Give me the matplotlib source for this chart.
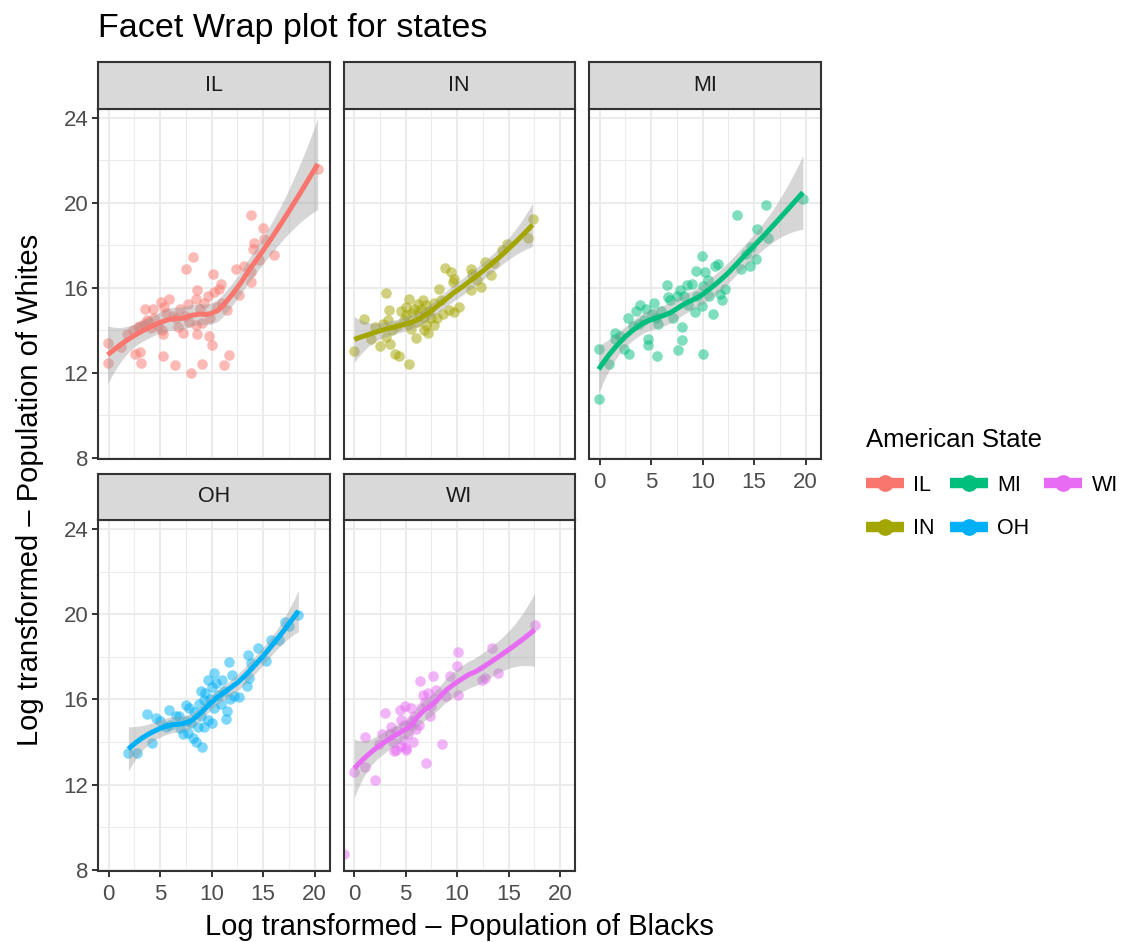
import numpy as np
import matplotlib
matplotlib.use("Agg")
import matplotlib.pyplot as plt
from matplotlib.lines import Line2D

plt.rcParams['font.family'] = ['Liberation Sans', 'DejaVu Sans']

# ---- data ---------------------------------------------------------------
states = ["IL", "IN", "MI", "OH", "WI"]
state_colors = ["#F8766D", "#A3A500", "#00BF7D", "#00B0F6", "#E76BF3"]

# (log black population, log white population) per county
il_points = [
    (-0.1, 13.4), (-0.1, 12.45), (1.2, 13.2), (1.8, 13.85), (2.4, 14.0), (2.6, 12.9),
    (2.8, 14.15), (3.0, 13.0), (3.0, 14.2), (3.1, 12.45), (3.4, 14.3), (3.5, 15.0),
    (3.7, 14.5), (3.8, 14.4), (4.1, 14.1), (4.3, 15.0), (4.4, 14.6), (4.8, 14.2),
    (5.1, 15.35), (5.2, 14.0), (5.3, 13.85), (5.3, 12.8), (5.4, 15.1), (5.6, 14.8),
    (5.9, 15.5), (6.2, 14.7), (6.4, 12.35), (6.5, 14.6), (6.7, 14.15), (6.9, 15.0),
    (7.2, 13.9), (7.4, 14.7), (7.5, 16.9), (7.7, 15.25), (7.8, 14.4), (8.0, 12.0),
    (8.2, 17.45), (8.5, 15.5), (8.5, 14.25), (8.6, 15.9), (8.6, 13.85), (8.9, 15.0),
    (9.05, 12.4), (9.1, 14.35), (9.3, 15.3), (9.6, 15.6), (9.7, 13.75), (9.8, 14.6),
    (10.0, 13.3), (10.1, 16.65), (10.2, 15.8), (10.5, 15.1), (10.7, 15.95), (10.9, 16.2),
    (11.0, 15.3), (11.2, 12.35), (11.5, 14.95), (11.7, 12.85), (12.35, 16.9), (12.7, 15.65),
    (13.1, 17.05), (13.8, 16.3), (13.8, 16.75), (13.85, 19.45), (14.0, 17.85), (14.1, 18.1),
    (14.6, 17.3), (15.0, 18.8), (15.1, 18.3), (16.1, 17.55), (20.3, 21.6),
]
in_points = [
    (0.0, 13.02), (0.96, 14.53), (1.99, 14.16), (1.67, 13.62), (2.54, 13.25), (3.12, 15.78),
    (3.38, 14.95), (3.28, 14.48), (3.12, 13.69), (3.44, 13.35), (3.92, 12.91), (4.34, 12.78),
    (5.37, 12.41), (5.37, 15.5), (5.05, 15.1), (5.05, 14.71), (5.53, 14.09), (6.01, 13.65),
    (6.17, 15.26), (6.66, 15.42), (6.82, 14.64), (6.98, 14.24), (7.14, 13.88), (6.82, 14.04),
    (7.78, 14.24), (8.26, 15.97), (8.42, 15.42), (8.59, 14.79), (8.81, 16.96), (9.39, 16.75),
    (9.55, 16.28), (9.71, 16.44), (9.23, 14.95), (9.71, 14.87), (10.19, 15.1), (11.32, 16.91),
    (11.48, 16.67), (11.32, 15.89), (11.96, 16.36), (12.28, 16.05), (12.7, 17.22), (13.25, 16.6),
    (13.57, 17.15), (14.37, 17.77), (14.86, 18.09), (16.85, 18.35), (17.33, 19.23),
    (4.5, 14.9), (4.8, 14.5), (5.2, 14.3), (5.6, 14.8), (5.8, 15.0), (6.3, 14.8),
    (6.5, 15.0), (7.0, 15.2), (7.5, 14.6), (7.8, 15.3), (8.0, 14.6), (4.2, 14.2),
    (3.7, 14.0), (2.8, 14.3), (6.1, 14.4), (7.3, 14.9),
]
mi_points = [
    (-0.03, 10.75), (-0.1, 13.14), (0.87, 12.44), (1.52, 13.62), (2.0, 13.73), (2.32, 13.14),
    (2.81, 12.91), (2.71, 14.6), (3.94, 15.18), (3.77, 14.32), (4.26, 14.48), (4.74, 13.3),
    (4.74, 13.58), (5.23, 15.31), (5.06, 14.79), (5.55, 12.78), (5.71, 14.32), (6.52, 16.13),
    (6.68, 15.58), (6.84, 15.42), (7.16, 14.6), (7.65, 13.07), (7.97, 14.16), (7.97, 13.57),
    (7.81, 15.92), (8.45, 16.13), (8.94, 16.2), (9.26, 14.87), (9.35, 16.8), (9.9, 17.51),
    (10.06, 12.88), (9.9, 15.14), (10.23, 16.75), (10.55, 16.36), (11.03, 14.79), (11.19, 17.02),
    (11.52, 17.11), (11.84, 15.45), (12.16, 15.97), (11.68, 15.73), (13.29, 19.42), (13.77, 16.88),
    (14.26, 17.62), (14.58, 17.02), (14.74, 17.93), (15.23, 17.35), (15.29, 18.79), (16.35, 18.37),
    (16.19, 19.89), (19.74, 20.2),
    (3.5, 14.9), (4.5, 15.0), (5.5, 14.6), (6.0, 14.9), (7.5, 15.6), (8.2, 15.6),
    (8.6, 15.2), (9.5, 15.6), (10.0, 16.1), (10.6, 15.6), (1.5, 13.9), (3.2, 14.2),
]
oh_points = [
    (1.91, 13.47), (2.75, 13.47), (4.17, 13.95), (3.72, 15.33), (4.59, 15.12), (5.56, 14.73),
    (5.88, 15.51), (6.53, 15.23), (6.95, 14.65), (7.5, 15.75), (7.82, 15.59), (7.66, 14.42),
    (8.47, 13.98), (9.11, 13.79), (8.63, 14.73), (9.27, 14.73), (9.6, 15.04), (10.08, 14.89),
    (8.95, 16.38), (9.27, 15.98), (9.6, 16.93), (10.24, 17.24), (10.4, 16.77), (11.05, 16.93),
    (11.37, 15.09), (11.53, 15.48), (11.7, 17.74), (12.02, 17.16), (12.18, 16.14), (12.67, 16.11),
    (13.47, 16.61), (13.63, 17.0), (13.54, 18.1), (13.8, 17.71), (14.51, 18.42), (15.25, 17.79),
    (15.74, 18.81), (16.54, 18.81), (17.12, 19.62), (17.51, 19.44), (18.42, 19.98),
    (5.0, 15.0), (6.0, 14.8), (7.2, 14.4), (7.6, 15.0), (8.0, 14.9), (8.3, 15.4),
    (8.8, 15.8), (9.0, 15.2), (9.4, 16.3), (9.8, 16.0), (10.2, 15.6), (10.6, 16.2),
    (10.9, 15.8), (11.2, 16.4), (8.2, 14.2), (6.8, 15.2), (11.8, 16.0), (10.0, 16.6),
]
# one WI county has no black residents: log(0) = -inf
wi_points = [
    (-np.inf, 8.75),
    (0.0, 12.61), (1.03, 12.85), (1.03, 14.26), (1.99, 12.22), (2.73, 14.37), (2.96, 15.36),
    (3.6, 14.73), (4.08, 13.63), (4.41, 15.51), (4.57, 15.04), (4.73, 14.1), (4.89, 15.67),
    (5.05, 13.63), (5.53, 15.59), (5.69, 14.02), (6.33, 14.81), (6.4, 16.85), (6.66, 16.22),
    (6.98, 13.0), (7.36, 15.2), (7.46, 15.67), (7.68, 17.08), (7.94, 16.45), (8.52, 13.9),
    (8.91, 16.14), (9.29, 17.08), (9.97, 17.55), (10.1, 18.23), (10.13, 16.22), (12.38, 16.93),
    (12.7, 17.0), (13.34, 18.42), (13.99, 17.24), (17.52, 19.48),
    (3.5, 14.4), (3.8, 14.0), (4.2, 14.5), (4.5, 13.8), (4.8, 14.8), (5.2, 14.4),
    (5.5, 15.0), (5.8, 15.2), (6.0, 14.6), (6.5, 15.6), (6.9, 15.9), (7.2, 16.3),
    (3.9, 13.6), (5.0, 13.7), (5.4, 14.8), (7.8, 16.0), (2.4, 13.9),
]
state_points = [il_points, in_points, mi_points, oh_points, wi_points]

x_ticks = [0, 5, 10, 15, 20]
x_minor = [2.5, 7.5, 12.5, 17.5]
y_ticks = [8, 12, 16, 20, 24]
y_minor = [10, 14, 18, 22]
x_limits = (-1.04, 21.45)
y_limits = (7.95, 24.42)


# ---- local quadratic regression (loess) with pointwise confidence band --
def loess_matrix(x, grid, span=0.75):
    n = len(x)
    q = int(np.floor(n * span))
    L = np.empty((len(grid), n))
    for i, x0 in enumerate(grid):
        d = np.abs(x - x0)
        h = max(np.sort(d)[q - 1], 1e-9)
        w = np.clip(1 - (d / h) ** 3, 0, None) ** 3
        X = np.column_stack([np.ones(n), x - x0, (x - x0) ** 2])
        XtW = X.T * w
        L[i] = np.linalg.solve(XtW @ X, XtW)[0]
    return L


def loess_band(x, y, npts=80, level_z=1.96):
    grid = np.linspace(x.min(), x.max(), npts)
    Ld = loess_matrix(x, x)
    M = np.eye(len(x)) - Ld
    MtM = M.T @ M
    delta1 = np.trace(MtM)
    delta2 = np.trace(MtM @ MtM)
    sigma = np.sqrt(np.sum((M @ y) ** 2) / delta1)
    df = delta1 ** 2 / delta2
    z = level_z
    t = z + (z ** 3 + z) / (4 * df) + (5 * z ** 5 + 16 * z ** 3 + 3 * z) / (96 * df ** 2)
    Lg = loess_matrix(x, grid)
    fit = Lg @ y
    se = sigma * np.sqrt(np.sum(Lg ** 2, axis=1))
    return grid, fit, fit - t * se, fit + t * se


# ---- layout (pixels) -----------------------------------------------------
W, H = 1125, 942
fig = plt.figure(figsize=(W / 100, H / 100), dpi=100)

col_left = [98, 343.5, 589]
panel_w = 231.5
row_panel = [(109, 459), (520, 871)]
row_strip = [(62, 109), (474, 520)]
grid_pos = [(0, 0), (0, 1), (0, 2), (1, 0), (1, 1)]

border = "#333333"
grid_col = "#EBEBEB"


def fig_rect(left, top, width, height):
    return [left / W, 1 - (top + height) / H, width / W, height / H]


for k, state in enumerate(states):
    r, c = grid_pos[k]
    top, bot = row_panel[r]
    ax = fig.add_axes(fig_rect(col_left[c], top, panel_w, bot - top))
    ax.set_xlim(*x_limits)
    ax.set_ylim(*y_limits)
    ax.set_xticks(x_ticks)
    ax.set_xticks(x_minor, minor=True)
    ax.set_yticks(y_ticks)
    ax.set_yticks(y_minor, minor=True)
    ax.grid(which="major", color=grid_col, lw=1.5)
    ax.grid(which="minor", color=grid_col, lw=0.75)
    ax.set_axisbelow(True)
    for sp in ax.spines.values():
        sp.set_color(border)
        sp.set_linewidth(1.5)

    show_left = c == 0
    show_bottom = r == 1 or (r == 0 and c == 2)
    ax.tick_params(which="minor", length=0)
    ax.tick_params(which="major", length=4.3, width=1.4, color=border,
                   labelsize=16, labelcolor="#4D4D4D", pad=2.5)
    ax.tick_params(axis="x", bottom=show_bottom, labelbottom=show_bottom, pad=5)
    ax.tick_params(axis="y", left=show_left, labelleft=show_left)

    pts = np.array(state_points[k], dtype=float)
    x, y = pts[:, 0], pts[:, 1]
    finite = np.isfinite(x)
    # infinite values sit on the panel edge, as ggplot draws them
    x_draw = np.where(finite, x, np.where(x < 0, x_limits[0], x_limits[1]))
    col = state_colors[k]
    ax.scatter(x_draw, y, s=58, color=col, alpha=0.5, linewidths=0, zorder=2)

    gx, fit, lo, hi = loess_band(x[finite], y[finite])
    ax.fill_between(gx, lo, hi, color="#999999", alpha=0.4, linewidth=0, zorder=3)
    ax.plot(gx, fit, color=col, lw=3.6, zorder=4, solid_capstyle="butt")

    stop, sbot = row_strip[r]
    sax = fig.add_axes(fig_rect(col_left[c], stop, panel_w, sbot - stop))
    sax.set_facecolor("#D9D9D9")
    sax.set_xticks([])
    sax.set_yticks([])
    for sp in sax.spines.values():
        sp.set_color(border)
        sp.set_linewidth(1.5)
    sax.text(0.5, 0.5, state, ha="center", va="center", fontsize=15.5,
             color="#1A1A1A", transform=sax.transAxes)

# ---- titles --------------------------------------------------------------
fig.text(98 / W, 1 - 37 / H, "Facet Wrap plot for states", fontsize=24.5,
         ha="left", va="baseline", color="black")
fig.text(459.5 / W, 1 - 935 / H, "Log transformed \u2013 Population of Blacks",
         fontsize=21, ha="center", va="baseline", color="black")
fig.text(30 / W, 1 - 490 / H, "Log transformed \u2013 Population of Whites",
         fontsize=21, ha="center", va="center", rotation=90, color="black")

# ---- legend --------------------------------------------------------------
handles = [Line2D([], [], color=c, lw=7.5, marker="o", ms=11, solid_capstyle="butt")
           for c in state_colors]
leg = fig.legend(handles, states, ncol=3, loc="upper left",
                 bbox_to_anchor=(866 / W, 1 - 428 / H), frameon=False,
                 title="American State", alignment="left", fontsize=15.5,
                 title_fontsize=18.5, handlelength=1.75, handletextpad=0.45,
                 columnspacing=0.7, labelspacing=1.05, borderpad=0,
                 borderaxespad=0)

fig.savefig("out.png", dpi=100)
